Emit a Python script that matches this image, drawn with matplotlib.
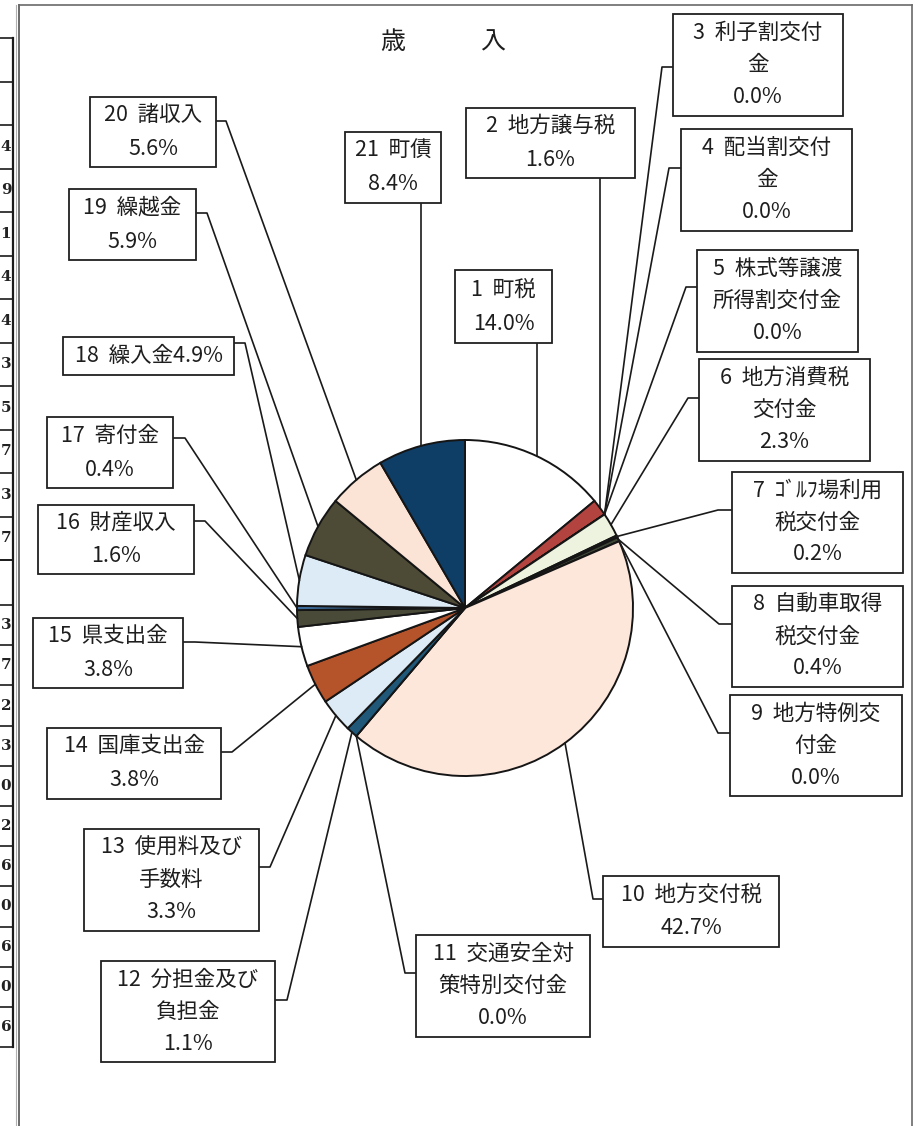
import matplotlib
matplotlib.use("Agg")
import matplotlib.pyplot as plt
from matplotlib.patches import Rectangle
import numpy as np

plt.rcParams['font.family'] = ['Noto Sans CJK JP', 'DejaVu Sans']

# ---------------- data ----------------
title = "歳　　　入"
numbers = list(range(1, 22))
names = ["町税", "地方譲与税", "利子割交付金", "配当割交付金", "株式等譲渡所得割交付金",
         "地方消費税交付金", "ｺﾞﾙﾌ場利用税交付金", "自動車取得税交付金", "地方特例交付金",
         "地方交付税", "交通安全対策特別交付金", "分担金及び負担金", "使用料及び手数料",
         "国庫支出金", "県支出金", "財産収入", "寄付金", "繰入金", "繰越金", "諸収入", "町債"]
shares = [14.0, 1.6, 0.0, 0.0, 0.0, 2.3, 0.2, 0.4, 0.0, 42.7, 0.0, 1.1, 3.3,
          3.8, 3.8, 1.6, 0.4, 4.9, 5.9, 5.6, 8.4]
colors = ["#ffffff", "#b3433f", "#ffffff", "#ffffff", "#ffffff", "#eef3df", "#2e3b2e",
          "#3e4636", "#ffffff", "#fde6da", "#ffffff", "#1f5878", "#dcebf5", "#b5532b",
          "#ffffff", "#4a4a38", "#3b6b9a", "#dcebf5", "#4d4a35", "#fbe3d6", "#0e3d66"]
# fragment of the neighbouring table visible at the left edge
table_digits = ["4", "9", "1", "4", "4", "3", "5", "7", "3", "7", "",
                "3", "7", "2", "3", "0", "2", "6", "0", "6", "0", "6"]

# ---------------- layout (pixels) ----------------
W, H = 921, 1126
CX, CY, R = 465, 608, 168
# box: (x0, y0, x1, y1), kind, leader y, elbow x, wrap index
layout = {
    1: ((455, 270, 552, 343), "top", None, None, None),
    2: ((466, 108, 635, 178), "top", None, None, None),
    3: ((673, 14, 843, 116), "right", 67, 662, 5),
    4: ((681, 129, 852, 231), "right", 168, 669, 5),
    5: ((697, 250, 858, 352), "right", 287, 686, 5),
    6: ((699, 359, 870, 461), "right", 398, 688, 5),
    7: ((732, 472, 903, 573), "right", 510, 718, 7),
    8: ((732, 586, 903, 687), "right", 624, 719, 5),
    9: ((730, 695, 902, 796), "right", 733, 718, 5),
    10: ((603, 876, 779, 947), "right", 899, 593, None),
    11: ((416, 935, 590, 1037), "right", 973, 405, 5),
    12: ((101, 961, 275, 1062), "left", 1000, 287, 5),
    13: ((84, 829, 259, 931), "left", 867, 270, 5),
    14: ((47, 728, 221, 799), "left", 752, 232, None),
    15: ((33, 618, 183, 688), "left", 642, 195, None),
    16: ((38, 505, 194, 574), "left", 521, 205, None),
    17: ((47, 417, 173, 488), "left", 438, 185, None),
    18: ((63, 337, 234, 375), "left", 343, 245, "single"),
    19: ((69, 189, 196, 260), "left", 213, 207, None),
    20: ((90, 97, 216, 167), "left", 121, 226, None),
    21: ((345, 132, 441, 203), "top", None, None, None),
}

fig = plt.figure(figsize=(W / 100, H / 100), dpi=100)
ax = fig.add_axes([0, 0, 1, 1])

wedges, _ = ax.pie(shares, colors=colors, startangle=-90, counterclock=True,
                   center=(CX, CY), radius=R,
                   wedgeprops=dict(edgecolor="#151515", linewidth=1.4))
ax.set_xlim(0, W)
ax.set_ylim(H, 0)
ax.set_aspect("auto")
ax.axis("off")

TXT = "#1e1e1e"
FS = 15.5
for i, (n, name, v, w) in enumerate(zip(numbers, names, shares, wedges)):
    (x0, y0, x1, y1), kind, ly, ex, wrap = layout[n]
    ax.add_patch(Rectangle((x0, y0), x1 - x0, y1 - y0, fill=True, facecolor="white",
                           edgecolor="#202020", linewidth=1.3, zorder=3))
    pct = f"{v:.1f}%"
    if wrap == "single":
        lines = [f"{n}  {name}{pct}"]
    elif wrap is None:
        lines = [f"{n}  {name}", pct]
    else:
        lines = [f"{n}  {name[:wrap]}", name[wrap:], pct]
    cxb, cyb = (x0 + x1) / 2, (y0 + y1) / 2
    step = 32 if len(lines) == 3 else 34
    offs = (np.arange(len(lines)) - (len(lines) - 1) / 2) * step
    for t, o in zip(lines, offs):
        ax.text(cxb, cyb + o, t, ha="center", va="center", fontsize=FS,
                color=TXT, zorder=4)
    # leader line
    mid = np.deg2rad((w.theta1 + w.theta2) / 2)
    px, py = CX + R * np.cos(mid), CY + R * np.sin(mid)
    if kind == "top":
        ax.plot([px, px], [y1, py], color="#1a1a1a", lw=1.2, zorder=2)
    else:
        bx = x0 if kind == "right" else x1
        ax.plot([px, ex, bx], [py, ly, ly], color="#1a1a1a", lw=1.2, zorder=2)

# title
ax.text(443, 42, title, ha="center", va="center", fontsize=18, color=TXT)

# outer frame of the scanned page
ax.plot([19, 19], [5, H], color="#6a6a6a", lw=1.4)
ax.plot([16, 16], [5, H], color="#b0b0b0", lw=0.8)
ax.plot([19, 912], [5, 5], color="#6a6a6a", lw=1.2)
ax.plot([912, 912], [5, H], color="#6a6a6a", lw=1.2)

# table fragment at the left edge
rows = [38, 82] + list(125 + 43.5 * np.arange(11)) + list(605 + 40.2 * np.arange(12))
ax.plot([12.5, 12.5], [38, rows[-1]], color="#1a1a1a", lw=1.6)
for yy in rows:
    ax.plot([0, 12.5], [yy, yy], color="#1a1a1a", lw=1.2)
ax.plot([0, 12.5], [560, 560], color="#1a1a1a", lw=1.2)
bounds = list(125 + 43.5 * np.arange(11)) + [605] + list(605 + 40.2 * np.arange(1, 12))
centers = [(a + b) / 2 for a, b in zip(bounds[:-1], bounds[1:])]
centers = centers[:10] + [582] + centers[11:]
for d, yc in zip(table_digits, centers):
    if d:
        ax.text(11.3, yc, d, ha="right", va="center", fontsize=11,
                family="DejaVu Serif", fontweight="bold", color="#222")

fig.savefig("out.png", dpi=100)
